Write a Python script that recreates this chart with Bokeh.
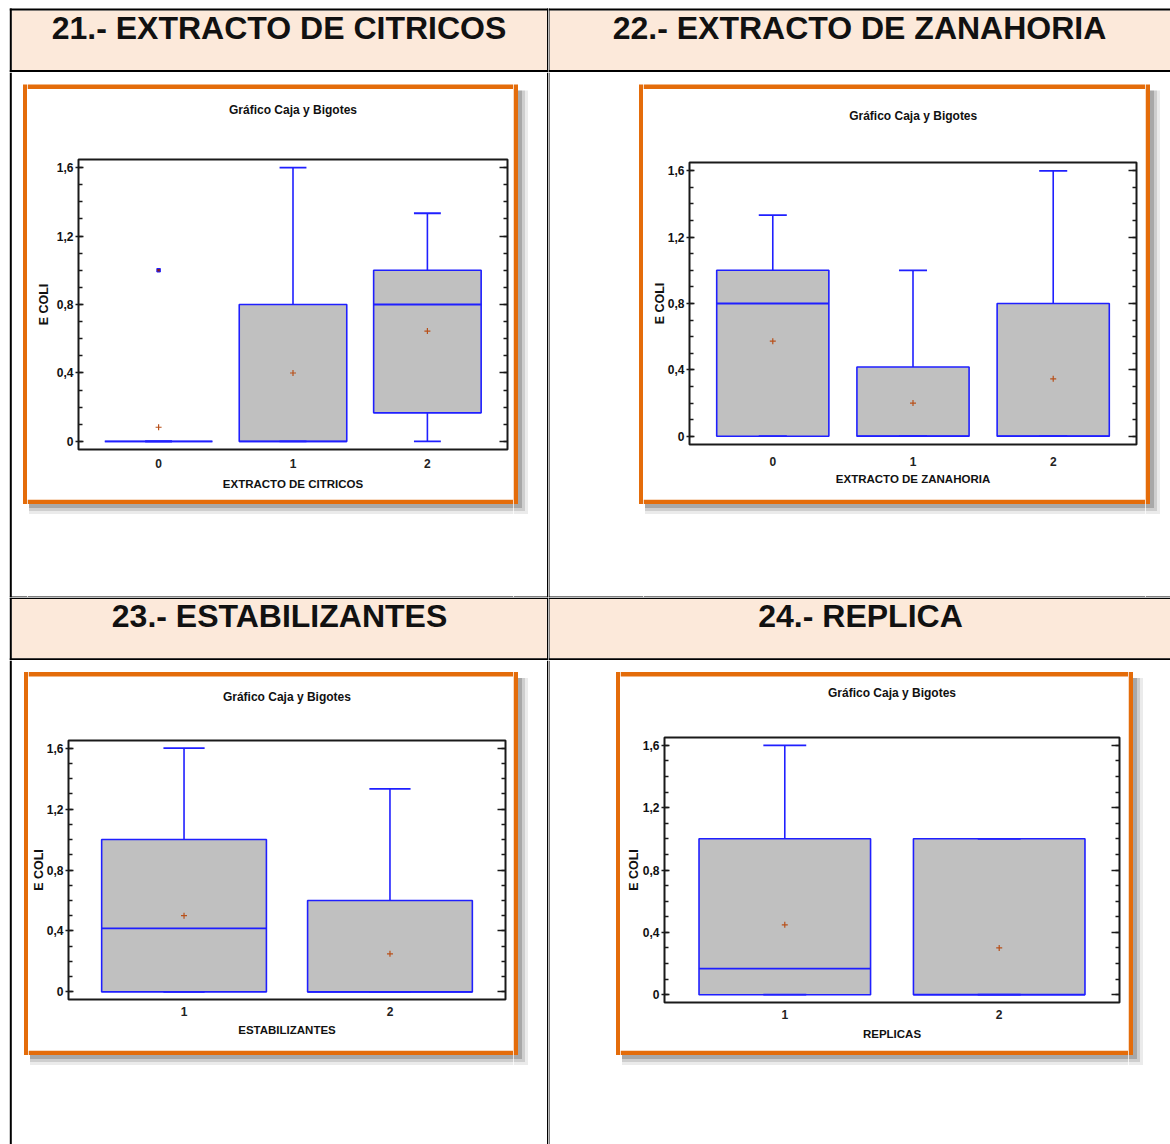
from bokeh.plotting import figure
from bokeh.models import (Range1d, FixedTicker, CustomJSTickFormatter, LinearAxis,
                          ColumnDataSource)
from bokeh.layouts import row, column
from bokeh.core.properties import value
from bokeh.embed import file_html
from bokeh.resources import INLINE

# ---------------- data ----------------
HEADERS = ["21.- EXTRACTO DE CITRICOS", "22.- EXTRACTO DE ZANAHORIA",
           "23.- ESTABILIZANTES", "24.- REPLICA"]
CHART_TITLE = "Gráfico Caja y Bigotes"
Y_LABEL = "E COLI"
Y_TICKS = [0, 0.4, 0.8, 1.2, 1.6]
Y_TICK_LABELS = ["0", "0,4", "0,8", "1,2", "1,6"]
Y_MINOR_TICKS = [0.0, 0.1, 0.2, 0.3, 0.4, 0.5, 0.6, 0.7, 0.8, 0.9, 1.0,
                 1.1, 1.2, 1.3, 1.4, 1.5, 1.6]

citricos_label = "EXTRACTO DE CITRICOS"
citricos_levels = [0, 1, 2]
citricos_tick_labels = ["0", "1", "2"]
citricos_low = [0.0, 0.0, 0.0]
citricos_q1 = [0.0, 0.0, 0.167]
citricos_median = [0.0, 0.0, 0.8]
citricos_q3 = [0.0, 0.8, 1.0]
citricos_high = [0.0, 1.6, 1.333]
citricos_mean = [0.083, 0.4, 0.645]
citricos_outlier_level = [0]
citricos_outlier_value = [1.0]

zanahoria_label = "EXTRACTO DE ZANAHORIA"
zanahoria_levels = [0, 1, 2]
zanahoria_tick_labels = ["0", "1", "2"]
zanahoria_low = [0.0, 0.0, 0.0]
zanahoria_q1 = [0.0, 0.0, 0.0]
zanahoria_median = [0.8, 0.0, 0.0]
zanahoria_q3 = [1.0, 0.417, 0.8]
zanahoria_high = [1.333, 1.0, 1.6]
zanahoria_mean = [0.573, 0.2, 0.346]

estab_label = "ESTABILIZANTES"
estab_levels = [1, 2]
estab_tick_labels = ["1", "2"]
estab_low = [0.0, 0.0]
estab_q1 = [0.0, 0.0]
estab_median = [0.417, 0.0]
estab_q3 = [1.0, 0.6]
estab_high = [1.6, 1.333]
estab_mean = [0.5, 0.25]

replica_label = "REPLICAS"
replica_levels = [1, 2]
replica_tick_labels = ["1", "2"]
replica_low = [0.0, 0.0]
replica_q1 = [0.0, 0.0]
replica_median = [0.167, 0.0]
replica_q3 = [1.0, 1.0]
replica_high = [1.6, 1.0]
replica_mean = [0.448, 0.3]

# ---------------- styles ----------------
ORANGE = "#E46C0A"
PEACH = "#FCE9DA"
BLUE = "#1F1FFF"
BOX_FILL = "#C0C0C0"
MEAN_COLOR = "#B8501A"
SANS = "Liberation Sans"
INK = "#111111"
BOX_W = 0.8
CAP_W = 0.2
BAR = 4.5                                   # orange frame thickness (px)
SHADOW = [(10, 0.08), (7, 0.12), (4, 0.18)]  # (extent px, alpha)


def deco(w, h, rects, texts=()):
    """A plain drawing area (no axes) used for the table, frames and titles."""
    p = figure(width=w, height=h, x_range=Range1d(0, w), y_range=Range1d(h, 0),
               output_backend="svg", toolbar_location=None, min_border=0,
               x_axis_location=None, y_axis_location=None, frame_align=False,
               background_fill_color="white", border_fill_color="white",
               outline_line_color=None)
    p.grid.visible = False
    if rects:
        l, r, t, b, c, a = zip(*rects)
        p.quad(left=list(l), right=list(r), top=list(t), bottom=list(b),
               fill_color=list(c), fill_alpha=list(a), line_color=None)
    for (x, y, txt, size) in texts:
        p.text(x=[x], y=[y], text=[txt], text_font=value(SANS),
               text_font_style="bold", text_font_size=value(size),
               text_align="center", text_baseline="middle", text_color=INK)
    return p


def header(w, h, text, text_xy, top, bottom, left, right, peach):
    rects = [(*peach, PEACH, 1.0)]
    for r in (top, bottom, left, right):
        if r is not None:
            rects.append((*r, "black", 1.0))
    return deco(w, h, rects, [(text_xy[0], text_xy[1], text, "32px")])


def tick_formatter(tvals, tlabels):
    return CustomJSTickFormatter(args=dict(tvals=tvals, tlabels=tlabels), code="""
        for (let i = 0; i < tvals.length; i++) {
            if (Math.abs(tvals[i] - tick) < 1e-9) { return tlabels[i]; }
        }
        return "";
    """)


def chart(w, h, borders, x_range, y_range, levels, tick_labels, x_label,
          low, q1, med, q3, high, mean, y_label_standoff, x_tick_standoff,
          x_label_standoff, outlier_level=None, outlier_value=None):
    bl, br, bt, bb = borders
    p = figure(width=w, height=h, x_range=Range1d(*x_range),
               y_range=Range1d(*y_range), output_backend="svg",
               toolbar_location=None, min_border_left=bl, min_border_right=br,
               min_border_top=bt, min_border_bottom=bb, frame_align=False,
               background_fill_color="white", border_fill_color="white",
               outline_line_color="#1a1a1a", outline_line_width=2)
    p.xgrid.visible = False
    p.ygrid.visible = False

    yax = p.yaxis[0]
    yax.ticker = FixedTicker(ticks=Y_TICKS, minor_ticks=Y_MINOR_TICKS)
    yax.formatter = tick_formatter(Y_TICKS, Y_TICK_LABELS)
    yax.axis_line_color = None
    yax.major_tick_in = 5
    yax.major_tick_out = 3
    yax.minor_tick_in = 4
    yax.minor_tick_out = 0
    yax.major_tick_line_color = "#1a1a1a"
    yax.minor_tick_line_color = "#1a1a1a"
    yax.major_tick_line_width = 1.5
    yax.minor_tick_line_width = 1.5
    yax.major_label_standoff = 2
    yax.major_label_text_font = SANS
    yax.major_label_text_font_style = "bold"
    yax.major_label_text_font_size = "12px"
    yax.major_label_text_color = INK
    yax.axis_label = Y_LABEL
    yax.axis_label_text_font = SANS
    yax.axis_label_text_font_style = "bold"
    yax.axis_label_text_font_size = "12.5px"
    yax.axis_label_text_color = INK
    yax.axis_label_standoff = y_label_standoff

    rax = LinearAxis(ticker=FixedTicker(ticks=Y_TICKS, minor_ticks=Y_MINOR_TICKS),
                     formatter=CustomJSTickFormatter(code="return '';"),
                     axis_line_color=None, major_tick_in=8, major_tick_out=0,
                     minor_tick_in=4, minor_tick_out=0,
                     major_tick_line_color="#1a1a1a", minor_tick_line_color="#1a1a1a",
                     major_tick_line_width=1.5, minor_tick_line_width=1.5,
                     major_label_standoff=0, axis_label_standoff=0,
                     major_label_text_font_size="0px")
    p.add_layout(rax, "right")

    xax = p.xaxis[0]
    xax.ticker = FixedTicker(ticks=levels, minor_ticks=[])
    xax.formatter = tick_formatter(levels, tick_labels)
    xax.axis_line_color = None
    xax.major_tick_in = 0
    xax.major_tick_out = 0
    xax.minor_tick_in = 0
    xax.minor_tick_out = 0
    xax.major_label_standoff = x_tick_standoff
    xax.major_label_text_font = SANS
    xax.major_label_text_font_style = "bold"
    xax.major_label_text_font_size = "12px"
    xax.major_label_text_color = "#222222"
    xax.axis_label = x_label
    xax.axis_label_text_font = SANS
    xax.axis_label_text_font_style = "bold"
    xax.axis_label_text_font_size = "11.5px"
    xax.axis_label_text_color = INK
    xax.axis_label_standoff = x_label_standoff

    src = ColumnDataSource(dict(
        x=levels, low=low, q1=q1, med=med, q3=q3, high=high, mean=mean,
        bx0=[v - BOX_W / 2 for v in levels], bx1=[v + BOX_W / 2 for v in levels],
        cx0=[v - CAP_W / 2 for v in levels], cx1=[v + CAP_W / 2 for v in levels],
    ))
    p.vbar(x="x", width=BOX_W, bottom="q1", top="q3", source=src,
           fill_color=BOX_FILL, line_color=BLUE, line_width=1.6)
    p.segment(x0="bx0", y0="med", x1="bx1", y1="med", source=src,
              line_color=BLUE, line_width=1.8)
    p.segment(x0="x", y0="q3", x1="x", y1="high", source=src,
              line_color=BLUE, line_width=1.6)
    p.segment(x0="cx0", y0="high", x1="cx1", y1="high", source=src,
              line_color=BLUE, line_width=1.8)
    p.segment(x0="x", y0="low", x1="x", y1="q1", source=src,
              line_color=BLUE, line_width=1.6)
    p.segment(x0="cx0", y0="low", x1="cx1", y1="low", source=src,
              line_color=BLUE, line_width=1.8)
    p.scatter(x="x", y="mean", source=src, marker="cross", size=6,
              line_color=MEAN_COLOR, line_width=1.2)
    if outlier_level is not None:
        p.scatter(x=outlier_level, y=outlier_value, marker="square", size=3.5,
                  fill_color="#8B1A1A", line_color=BLUE, line_width=1)
    return p


def body(cell_w, cell_h, cx0, cx1, top_h, cy1, o_top, title_xy, plot,
         table_left=None, table_right=None, bottom_line=False):
    """Cell body: orange framed chart with a soft shadow, inside table lines."""
    chart_w = cx1 - cx0
    right_w = cell_w - cx1
    o_bot = cy1 + BAR
    left_r = [(cx0 - BAR, cx0, o_top, o_bot, ORANGE, 1.0)]
    top_r = [(0, chart_w, o_top, o_top + BAR, ORANGE, 1.0)]
    bot_r = [(0, chart_w, 0, BAR, ORANGE, 1.0)]
    right_r = [(0, BAR, o_top, o_bot, ORANGE, 1.0)]
    for k, a in SHADOW:
        bot_r.append((1.5, chart_w, BAR, BAR + k, "black", a))
        right_r.append((BAR, BAR + k, o_top + 6, o_bot + k, "black", a))
        right_r.append((0, BAR, o_bot, o_bot + k, "black", a))
    if table_left is not None:
        left_r.append((table_left[0], table_left[1], 0, cell_h, "black", 1.0))
    if table_right is not None:
        right_r.append((table_right[0] - cx1, table_right[1] - cx1, 0, cell_h,
                        "black", 1.0))
    if bottom_line:
        x_start = table_left[0] if table_left is not None else 0
        left_r.append((x_start, cx0, cell_h - 1, cell_h, "black", 1.0))
        bot_r.append((0, chart_w, cell_h - cy1 - 1, cell_h - cy1, "black", 1.0))
        right_r.append((0, right_w, cell_h - 1, cell_h, "black", 1.0))
    left = deco(cx0, cell_h, left_r)
    top = deco(chart_w, top_h, top_r,
               [(title_xy[0], title_xy[1], CHART_TITLE, "12px")])
    bottom = deco(chart_w, cell_h - cy1, bot_r)
    right = deco(right_w, cell_h, right_r)
    return row(left, column(top, plot, bottom), right)


LEFT_W, RIGHT_W = 548, 622
HEAD1_H, BODY1_H, HEAD2_H, BODY2_H = 72, 525, 63, 484

h1 = header(LEFT_W, HEAD1_H, HEADERS[0], (278.5, 27),
            (9.3, LEFT_W, 8, 10), (9.3, LEFT_W, 69.5, 71.5),
            (9.3, 11.3, 8, HEAD1_H), (546.5, LEFT_W, 8, HEAD1_H),
            (11.3, 546.5, 10, 69.5))
h2 = header(RIGHT_W, HEAD1_H, HEADERS[1], (311, 27),
            (0, RIGHT_W, 8, 10), (0, RIGHT_W, 69.5, 71.5),
            (0, 1, 8, HEAD1_H), None, (1, RIGHT_W, 10, 69.5))
h3 = header(LEFT_W, HEAD2_H, HEADERS[2], (279, 18),
            (9.3, LEFT_W, 0, 1.5), (9.3, LEFT_W, 60.7, 62.7),
            (9.3, 11.3, 0, HEAD2_H), (546.5, LEFT_W, 0, HEAD2_H),
            (11.3, 546.5, 1.5, 60.7))
h4 = header(RIGHT_W, HEAD2_H, HEADERS[3], (312, 18),
            (0, RIGHT_W, 0, 1.5), (0, RIGHT_W, 60.7, 62.7),
            (0, 1, 0, HEAD2_H), None, (1, RIGHT_W, 1.5, 60.7))

c1 = chart(486, 379, (51, 6, 39, 50), (-0.596, 2.596), (-0.047, 1.647),
           citricos_levels, citricos_tick_labels, citricos_label,
           citricos_low, citricos_q1, citricos_median, citricos_q3,
           citricos_high, citricos_mean, 3, 9, 7,
           outlier_level=citricos_outlier_level,
           outlier_value=citricos_outlier_value)
c2 = chart(502, 374, (46, 9, 37, 55), (-0.594, 2.594), (-0.05, 1.65),
           zanahoria_levels, zanahoria_tick_labels, zanahoria_label,
           zanahoria_low, zanahoria_q1, zanahoria_median, zanahoria_q3,
           zanahoria_high, zanahoria_mean, -2, 12, 4)
c3 = chart(485, 342, (40, 8, 32, 51), (0.439, 2.561), (-0.05, 1.65),
           estab_levels, estab_tick_labels, estab_label,
           estab_low, estab_q1, estab_median, estab_q3, estab_high,
           estab_mean, -2, 7, 5)
c4 = chart(508, 346, (44, 9, 33, 48), (0.439, 2.561), (-0.05, 1.65),
           replica_levels, replica_tick_labels, replica_label,
           replica_low, replica_q1, replica_median, replica_q3, replica_high,
           replica_mean, -1, 7, 6)

b1 = body(LEFT_W, BODY1_H, 27, 513, 48, 427, 12, (265.5, 37.3), c1,
          table_left=(9.3, 11.3), table_right=(546.5, LEFT_W), bottom_line=True)
b2 = body(RIGHT_W, BODY1_H, 95, 597, 53, 427, 12, (269.7, 43), c2,
          table_left=(0, 1), bottom_line=True)
b3 = body(LEFT_W, BODY2_H, 28, 513, 48, 390, 11.5, (258.4, 36.7), c3,
          table_left=(9.3, 11.3), table_right=(546.5, LEFT_W))
b4 = body(RIGHT_W, BODY2_H, 72, 580, 44, 390, 11.5, (271.5, 32.3), c4,
          table_left=(0, 1))

layout = column(row(h1, h2), row(b1, b2), row(h3, h4), row(b3, b4))
open("out.html", "w").write(file_html(layout, INLINE))
